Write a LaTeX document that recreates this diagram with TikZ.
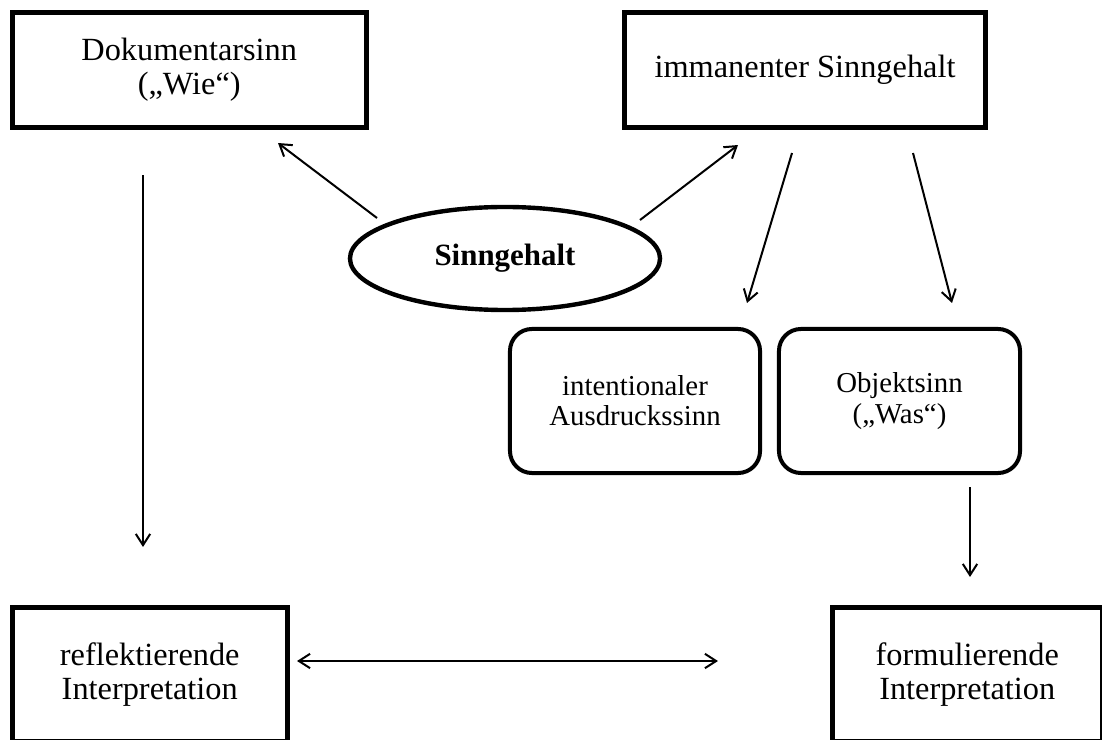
\documentclass[tikz,border=0pt]{standalone}
\usepackage{fontspec}
\setmainfont{Liberation Serif}
\usetikzlibrary{arrows.meta,shapes.geometric,calc}
\begin{document}
\begin{tikzpicture}[x=0.025cm,y=-0.025cm,
  box/.style={draw,line width=0.125cm,rectangle,align=center,inner sep=0pt,outer sep=0pt,
    font=\fontsize{23}{24}\selectfont},
  rbox/.style={draw,line width=0.1cm,rectangle,rounded corners=0.55cm,align=center,inner sep=0pt,outer sep=0pt,
    minimum width=6.25cm,minimum height=3.6cm,font=\fontsize{20.5}{21.5}\selectfont},
  oval/.style={draw,line width=0.11cm,ellipse,inner sep=0pt,outer sep=0pt,
    font=\fontsize{22}{24}\selectfont\bfseries},
  arr/.style={line width=0.05cm,-{Straight Barb[length=0.28cm,width=0.36cm,line width=0.05cm]}},
  darr/.style={line width=0.05cm,{Straight Barb[length=0.28cm,width=0.36cm,line width=0.05cm]}-{Straight Barb[length=0.28cm,width=0.36cm,line width=0.05cm]}}]
\useasboundingbox (0,0) rectangle (1102,740);
\fill[white] (0,0) rectangle (1102,740);

% boxes
\node[box,minimum width=8.84cm,minimum height=2.875cm] (doc) at (189.25,70) {Dokumentarsinn\\(„Wie“)};
\node[box,minimum width=9.025cm,minimum height=2.875cm] (imm) at (805,70) {immanenter Sinngehalt};
\node[oval,minimum width=7.75cm,minimum height=2.575cm] (ell) at (505,258.5) {Sinngehalt};
\node[rbox] (ias) at (635,401) {intentionaler\\Ausdruckssinn};
\node[rbox,minimum width=6.025cm] (obj) at (899.5,401) {Objektsinn\\(„Was“)};
\node[box,minimum width=6.8625cm,minimum height=3.3375cm] (ref) at (149.75,674.25) {reflektierende\\Interpretation};
\node[box,minimum width=6.7375cm,minimum height=3.3375cm] (form) at (967.25,674.25) {formulierende\\Interpretation};

% connectors
\draw[arr] ($(ell.center)+(-128,-40.5)$) -- ($(doc.south)+(88.75,15.5)$);
\draw[arr] ($(ell.center)+(135,-38.5)$) -- ($(imm.south)+(-67,17.5)$);
\draw[arr] ($(imm.south)+(-13,25.5)$) -- ($(ias.north)+(112,-26)$);
\draw[arr] ($(imm.south)+(108,25.5)$) -- ($(obj.north)+(52.5,-26)$);
\draw[arr] ($(doc.south)+(-46.25,47.5)$) -- ($(ref.north)+(-6.75,-60.5)$);
\draw[arr] ($(obj.south)+(70.5,14)$) -- ($(form.north)+(2.75,-30.5)$);
\draw[darr] ($(ref.east)+(10,-13.25)$) -- ($(form.west)+(-114.5,-13.25)$);
\end{tikzpicture}
\end{document}
